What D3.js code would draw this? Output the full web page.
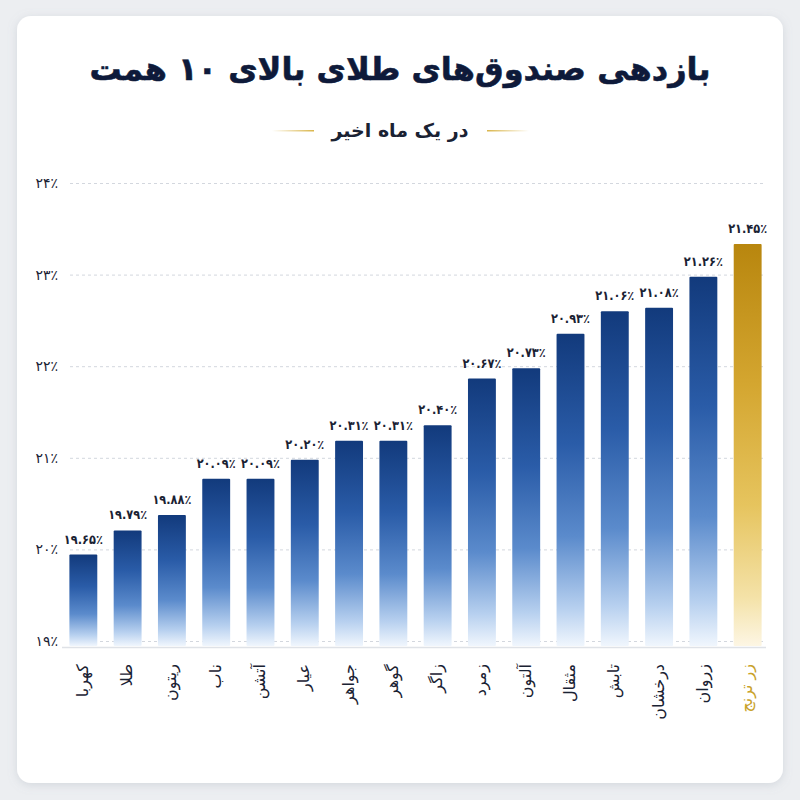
<!DOCTYPE html>
<html>
<head>
<meta charset="utf-8">
<script src="https://cdn.jsdelivr.net/npm/d3@7"></script>
<style>
  body { margin: 0; background: #eceef1; }
  #chart { width: 800px; height: 800px; }
  text { font-family: "DejaVu Sans", sans-serif; }
</style>
</head>
<body>
<div id="chart"></div>
<script>
const svgWidth = 800;
const svgHeight = 800;

// data
const funds = ["کهربا", "طلا", "ریتون", "ناب", "آتشن", "عیار", "جواهر", "گوهر", "زاگر", "زمرد", "آلتون", "مثقال", "تابش", "درخشان", "زروان", "زر ترنج"];
const returns = [19.65, 19.79, 19.88, 20.09, 20.09, 20.20, 20.31, 20.31, 20.40, 20.67, 20.73, 20.93, 21.06, 21.08, 21.26, 21.45];
const yTicks = [19, 20, 21, 22, 23, 24];
const highlight = "زر ترنج";

const titleText = "بازدهی صندوق‌های طلای بالای ۱۰ همت";
const subtitleText = "در یک ماه اخیر";

const faDigits = "۰۱۲۳۴۵۶۷۸۹";
const toFa = s => String(s).replace(/[0-9]/g, d => faDigits[+d]);

const data = funds.map((f, i) => ({fund: f, value: returns[i]}));

const svg = d3.select("#chart")
  .append("svg")
  .attr("width", svgWidth)
  .attr("height", svgHeight);

const defs = svg.append("defs");

const shadow = defs.append("filter").attr("id", "shadow")
  .attr("x", "-10%").attr("y", "-10%").attr("width", "120%").attr("height", "120%");
shadow.append("feDropShadow")
  .attr("dx", 0).attr("dy", 2).attr("stdDeviation", 5)
  .attr("flood-color", "#8a93a3").attr("flood-opacity", 0.25);

function vGrad(id, stops) {
  const g = defs.append("linearGradient").attr("id", id)
    .attr("x1", 0).attr("y1", 0).attr("x2", 0).attr("y2", 1);
  stops.forEach(s => g.append("stop").attr("offset", s[0]).attr("stop-color", s[1]));
}
vGrad("blue", [["0%", "#123a7c"], ["35%", "#2a5ca8"], ["65%", "#5b8bcc"], ["88%", "#b7d0ef"], ["100%", "#f0f6fd"]]);
vGrad("gold", [["0%", "#b8860e"], ["35%", "#d4a630"], ["65%", "#e6c45e"], ["88%", "#f4e2a8"], ["100%", "#fdf6e4"]]);

const lineL = defs.append("linearGradient").attr("id", "lineL");
lineL.append("stop").attr("offset", "0%").attr("stop-color", "#d9b54a").attr("stop-opacity", 0);
lineL.append("stop").attr("offset", "100%").attr("stop-color", "#d9b54a");
const lineR = defs.append("linearGradient").attr("id", "lineR");
lineR.append("stop").attr("offset", "0%").attr("stop-color", "#d9b54a");
lineR.append("stop").attr("offset", "100%").attr("stop-color", "#d9b54a").attr("stop-opacity", 0);

// card
svg.append("rect")
  .attr("x", 17).attr("y", 16)
  .attr("width", 766).attr("height", 767)
  .attr("rx", 14)
  .attr("fill", "#ffffff")
  .attr("filter", "url(#shadow)");

// title + subtitle
svg.append("text")
  .attr("x", 400).attr("y", 80)
  .attr("text-anchor", "middle")
  .attr("font-size", 32)
  .attr("font-weight", "bold")
  .attr("fill", "#0e1a3a")
  .attr("stroke", "#0e1a3a")
  .attr("stroke-width", 0.6)
  .text(titleText);

svg.append("text")
  .attr("x", 400).attr("y", 137)
  .attr("text-anchor", "middle")
  .attr("font-size", 19)
  .attr("font-weight", "bold")
  .attr("fill", "#1a2233")
  .text(subtitleText);

svg.append("rect").attr("x", 272).attr("y", 130).attr("width", 42).attr("height", 1.5).attr("fill", "url(#lineL)");
svg.append("rect").attr("x", 487).attr("y", 130).attr("width", 42).attr("height", 1.5).attr("fill", "url(#lineR)");

// scales
const x = d3.scaleBand()
  .domain(funds)
  .range([53, 778])
  .padding(0.37);

// axis as printed on the picture
const yAxisScale = d3.scaleLinear()
  .domain([19, 24])
  .range([641, 183]);

// bar heights as drawn on the picture (they do not follow the printed axis)
const barBase = 646;
const yBar = d3.scaleLinear()
  .domain([19.12, 21.45])
  .range([barBase, 244]);

// grid + tick labels
const yAxis = svg.append("g")
  .attr("transform", "translate(70,0)")
  .call(d3.axisLeft(yAxisScale)
    .tickValues(yTicks)
    .tickSize(-695)
    .tickPadding(12)
    .tickFormat(d => toFa(d) + "٪"));

yAxis.select(".domain").remove();
yAxis.selectAll(".tick line")
  .attr("stroke", "#d3d7de")
  .attr("stroke-dasharray", "3,3");
yAxis.selectAll(".tick text")
  .attr("font-family", "DejaVu Sans")
  .attr("font-size", 14)
  .attr("fill", "#1a2233");

// bars
svg.selectAll(".bar")
  .data(data)
  .enter()
  .append("rect")
  .attr("class", "bar")
  .attr("x", d => x(d.fund))
  .attr("y", d => yBar(d.value))
  .attr("width", x.bandwidth())
  .attr("height", d => barBase - yBar(d.value))
  .attr("rx", 1)
  .attr("fill", d => d.fund === highlight ? "url(#gold)" : "url(#blue)");

// baseline
svg.append("line")
  .attr("x1", 62).attr("x2", 766)
  .attr("y1", barBase + 1.5).attr("y2", barBase + 1.5)
  .attr("stroke", "#dfe2e7").attr("stroke-width", 1.5);

// value labels (squeezed a little so neighbours don't touch)
svg.selectAll(".val")
  .data(data)
  .enter()
  .append("text")
  .attr("class", "val")
  .attr("x", d => x(d.fund) + x.bandwidth() / 2)
  .attr("y", d => yBar(d.value) - 11)
  .attr("text-anchor", "middle")
  .attr("font-size", 13)
  .attr("font-weight", "bold")
  .attr("textLength", 39)
  .attr("lengthAdjust", "spacingAndGlyphs")
  .attr("fill", "#1a2233")
  .text(d => toFa(d.value.toFixed(2)) + "٪");

// fund names, rotated
svg.selectAll(".name")
  .data(data)
  .enter()
  .append("text")
  .attr("class", "name")
  .attr("transform", d => `translate(${x(d.fund) + x.bandwidth() / 2}, 664) rotate(-90)`)
  .attr("text-anchor", "end")
  .attr("dominant-baseline", "middle")
  .attr("font-size", 16)
  .attr("fill", d => d.fund === highlight ? "#c9a22a" : "#1a2233")
  .text(d => d.fund);
</script>
</body>
</html>
